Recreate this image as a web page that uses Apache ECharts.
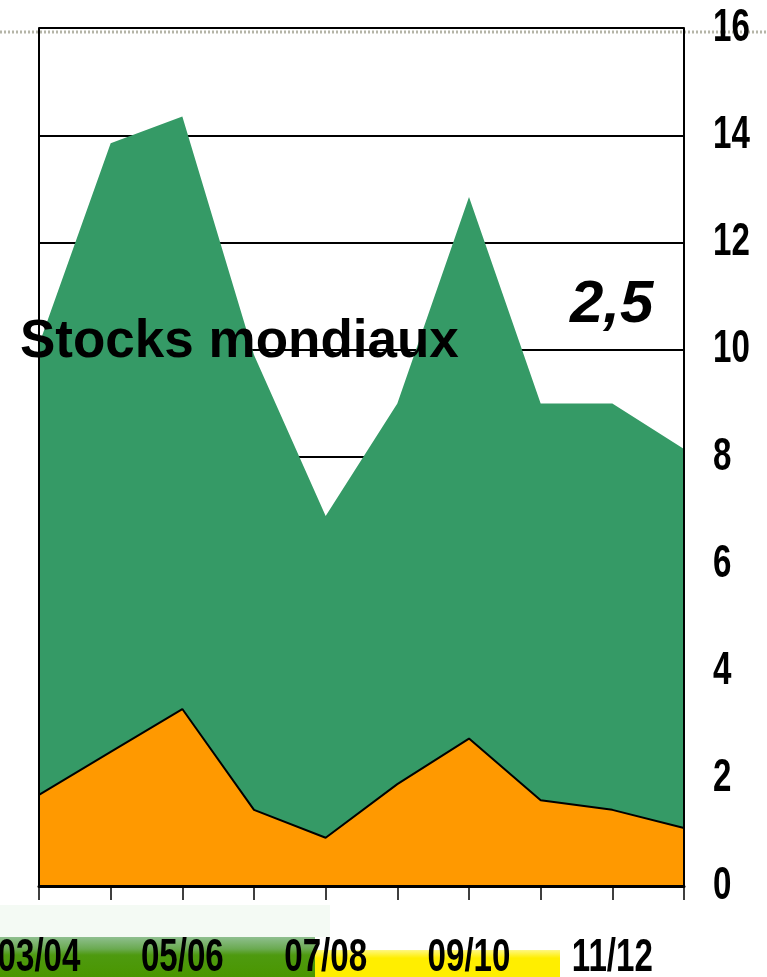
<!DOCTYPE html>
<html>
<head>
<meta charset="utf-8">
<title>Stocks mondiaux</title>
<style>
  html, body { margin: 0; padding: 0; background: #fff; }
  #main { width: 767px; height: 977px; }
</style>
</head>
<body>
<div id="main"></div>
<script src="https://cdn.jsdelivr.net/npm/echarts@6/dist/echarts.min.js"></script>
<script>
// campagnes
var categories = ['03/04', '04/05', '05/06', '06/07', '07/08', '08/09', '09/10', '10/11', '11/12', '12/13'];
// stocks mondiaux (zone verte)
var stocks = [10.1, 13.85, 14.35, 9.9, 6.9, 9.0, 12.85, 9.0, 9.0, 8.15];
// partie orange
var orange = [1.7, 2.5, 3.3, 1.42, 0.9, 1.9, 2.75, 1.6, 1.42, 1.08];
// graduations
var yTicks = [0, 2, 4, 6, 8, 10, 12, 14, 16];
var yMin = 0, yMax = 16, yStep = 2;

// police étroite (pas d'Arial Narrow ici : on comprime Liberation Sans)
var labelFont = 'bold 46px "Liberation Sans", Arial, sans-serif';
var squeeze = 0.72;

var myChart = echarts.init(document.getElementById('main'));

myChart.setOption({
  animation: false,
  grid: { left: 39, right: 83, top: 28, bottom: 91, outerBoundsMode: 'none', containLabel: false },
  xAxis: {
    type: 'category',
    data: categories,
    boundaryGap: false,
    z: 5,
    axisLine: { lineStyle: { color: '#000', width: 3 } },
    axisTick: { show: true, length: 14, lineStyle: { color: '#000', width: 1.5 } },
    axisLabel: { show: false },
    splitLine: { show: false }
  },
  yAxis: [
    {
      // axe de droite
      type: 'value', position: 'right', min: yMin, max: yMax, interval: yStep, z: 5,
      axisLine: { show: true, lineStyle: { color: '#000', width: 2 } },
      axisTick: { show: false },
      axisLabel: { show: false },
      splitLine: { show: false }
    },
    {
      // trait de gauche
      type: 'value', position: 'left', min: yMin, max: yMax, interval: yStep, z: 5,
      axisLine: { show: true, lineStyle: { color: '#000', width: 2 } },
      axisTick: { show: false },
      axisLabel: { show: false },
      splitLine: { show: false }
    },
    {
      // lignes horizontales, sous les aires
      type: 'value', position: 'left', min: yMin, max: yMax, interval: yStep, z: 0,
      axisLine: { show: false },
      axisTick: { show: false },
      axisLabel: { show: false },
      splitLine: { show: true, lineStyle: { color: '#000', width: 2 } }
    }
  ],
  series: [
    {
      name: 'Stocks mondiaux',
      type: 'line',
      data: stocks,
      symbol: 'none',
      z: 2,
      lineStyle: { width: 0 },
      areaStyle: { color: '#359a66', opacity: 1 }
    },
    {
      name: 'Orange',
      type: 'line',
      data: orange,
      symbol: 'none',
      z: 3,
      lineStyle: { color: '#000', width: 2 },
      areaStyle: { color: '#ff9900', opacity: 1 }
    }
  ]
});

// décor + libellés d'axes (placés via les échelles du graphique)
var gfx = [
  {
    type: 'line', z: -5,
    shape: { x1: 0, y1: 32, x2: 767, y2: 32 },
    style: { stroke: '#b5b5a8', lineWidth: 3, lineDash: [2, 2] }
  },
  {
    type: 'rect', z: -10,
    shape: { x: 0, y: 905, width: 330, height: 32 },
    style: { fill: '#f4faf4' }
  },
  {
    type: 'rect', z: -10,
    shape: { x: 0, y: 937, width: 315, height: 40 },
    style: {
      fill: new echarts.graphic.LinearGradient(0, 0, 0, 1, [
        { offset: 0, color: '#8fbf8f' },
        { offset: 0.3, color: '#6aaa50' },
        { offset: 0.45, color: '#4e9a10' },
        { offset: 1, color: '#4a9600' }
      ])
    }
  },
  {
    type: 'rect', z: -10,
    shape: { x: 315, y: 950, width: 245, height: 27 },
    style: {
      fill: new echarts.graphic.LinearGradient(0, 0, 0, 1, [
        { offset: 0, color: '#fff880' },
        { offset: 0.3, color: '#ffee00' },
        { offset: 1, color: '#ffee00' }
      ])
    }
  },
  {
    type: 'text', z: 20,
    x: 20, y: 342,
    style: {
      text: 'Stocks mondiaux',
      fill: '#000',
      font: 'bold 53px "Liberation Sans", Arial, sans-serif',
      textVerticalAlign: 'middle'
    }
  },
  {
    type: 'text', z: 20,
    x: 570, y: 305,
    style: {
      text: '2,5',
      fill: '#000',
      font: 'italic bold 60px "Liberation Sans", Arial, sans-serif',
      textVerticalAlign: 'middle'
    }
  }
];

var rightX = myChart.convertToPixel({ xAxisIndex: 0 }, categories[categories.length - 1]);
var baseY = myChart.convertToPixel({ yAxisIndex: 0 }, yMin);

yTicks.forEach(function (v) {
  gfx.push({
    type: 'text', z: 20,
    x: rightX + 29, y: myChart.convertToPixel({ yAxisIndex: 0 }, v),
    scaleX: squeeze,
    style: { text: String(v), fill: '#000', font: labelFont, textAlign: 'left', textVerticalAlign: 'middle' }
  });
});

categories.forEach(function (c, i) {
  if (i % 2 !== 0) return;
  gfx.push({
    type: 'text', z: 20,
    x: myChart.convertToPixel({ xAxisIndex: 0 }, c), y: baseY + 72,
    scaleX: squeeze,
    style: { text: c, fill: '#000', font: labelFont, textAlign: 'center', textVerticalAlign: 'middle' }
  });
});

myChart.setOption({ graphic: gfx });
</script>
</body>
</html>
